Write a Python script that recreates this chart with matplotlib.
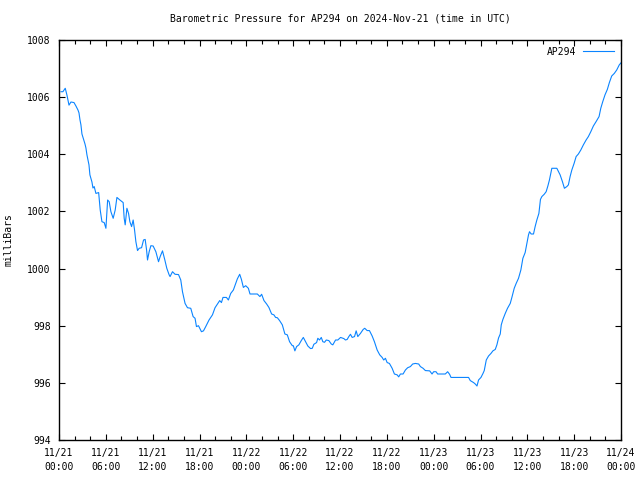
import matplotlib
matplotlib.use("Agg")
import matplotlib.pyplot as plt
from matplotlib.ticker import MultipleLocator

# hours since 2024-11-21 00:00 UTC
hours = [0.26, 0.5, 0.8, 1.02, 1.28, 1.53, 1.92, 2.17, 2.43, 2.56, 2.69, 2.81, 2.94, 3.2, 3.33, 3.45,
         3.58, 3.84, 3.96, 4.22, 4.35, 4.51, 4.73, 5.08, 5.28, 5.5, 5.79, 6.01, 6.23, 6.43, 6.65, 6.94,
         7.2, 7.42, 7.8, 8.22, 8.35, 8.48, 8.7, 8.91, 9.08, 9.3, 9.5, 9.68, 9.85, 10.06, 10.27, 10.58,
         10.83, 11.04, 11.22, 11.34, 11.55, 11.77, 12.06, 12.41, 12.75, 12.96, 13.26, 13.56, 13.81,
         14.11, 14.23, 14.54, 14.87, 15.31, 15.6, 15.82, 16.15, 16.46, 16.88, 17.18, 17.43, 17.61,
         17.87, 18.03, 18.25, 18.51, 18.8, 19.22, 19.66, 19.99, 20.3, 20.59, 20.81, 21.01, 21.45,
         21.7, 22.0, 22.34, 22.64, 22.85, 23.15, 23.37, 23.62, 23.92, 24.26, 24.47, 25.41, 25.74,
         25.96, 26.26, 26.6, 26.89, 27.24, 27.53, 27.75, 27.97, 28.26, 28.61, 28.94, 29.25, 29.54,
         29.89, 30.02, 30.22, 30.44, 30.73, 31.04, 31.3, 31.59, 31.88, 32.23, 32.45, 32.65, 33.0,
         33.16, 33.38, 33.6, 33.8, 34.02, 34.24, 34.57, 34.88, 35.08, 35.43, 35.72, 36.07, 36.49,
         36.7, 36.92, 37.13, 37.34, 37.56, 37.86, 38.07, 38.28, 38.62, 38.97, 39.17, 39.48, 39.77,
         40.12, 40.41, 40.76, 41.09, 41.4, 41.6, 41.82, 42.04, 42.33, 42.68, 42.97, 43.32, 43.52,
         43.74, 44.08, 44.38, 44.67, 45.02, 45.31, 45.66, 46.08, 46.3, 46.64, 46.94, 47.49, 47.79,
         48.0, 48.3, 48.51, 49.49, 49.79, 50.04, 50.22, 52.47, 52.69, 53.11, 53.33, 53.55, 53.75,
         54.06, 54.32, 54.48, 54.74, 55.03, 55.34, 55.59, 55.89, 56.1, 56.31, 56.53, 56.66, 56.87,
         57.17, 57.46, 57.81, 58.02, 58.32, 58.57, 58.87, 59.17, 59.43, 59.72, 59.94, 60.15, 60.28,
         60.49, 60.79, 61.0, 61.22, 61.48, 61.68, 61.86, 62.16, 62.41, 62.63, 62.83, 63.14, 63.78,
         64.2, 64.5, 64.75, 65.06, 65.26, 65.48, 65.7, 65.99, 66.25, 66.54, 66.85, 67.18, 67.53,
         67.82, 68.13, 68.46, 68.8, 69.19, 69.41, 69.66, 69.95, 70.25, 70.51, 70.81, 71.14, 71.45,
         71.78, 72.0]

pressure = [1006.19, 1006.19, 1006.31, 1006.07, 1005.72, 1005.83, 1005.81, 1005.69, 1005.55, 1005.45,
            1005.2, 1005.03, 1004.71, 1004.47, 1004.36, 1004.22, 1003.98, 1003.63, 1003.28, 1003.03,
            1002.82, 1002.87, 1002.63, 1002.66, 1002.05, 1001.64, 1001.61, 1001.41, 1002.40, 1002.34,
            1001.99, 1001.76, 1002.05, 1002.49, 1002.40, 1002.31, 1001.76, 1001.53, 1002.11, 1001.93,
            1001.64, 1001.47, 1001.70, 1001.35, 1000.94, 1000.63, 1000.71, 1000.73, 1001.0, 1001.02,
            1000.65, 1000.30, 1000.59, 1000.80, 1000.79, 1000.59, 1000.24, 1000.42, 1000.62, 1000.30,
            1000.01, 999.78, 999.72, 999.89, 999.80, 999.79, 999.6, 999.19, 998.78, 998.63, 998.61,
            998.32, 998.26, 997.97, 998.0, 997.91, 997.79, 997.82, 997.97, 998.2, 998.38, 998.63,
            998.76, 998.88, 998.81, 998.99, 998.99, 998.9, 999.13, 999.25, 999.48, 999.64, 999.80,
            999.62, 999.34, 999.40, 999.31, 999.11, 999.11, 999.02, 999.10, 998.88, 998.76, 998.64,
            998.41, 998.38, 998.29, 998.28, 998.18, 998.03, 997.71, 997.68, 997.44, 997.30, 997.30,
            997.12, 997.27, 997.33, 997.48, 997.59, 997.44, 997.29, 997.20, 997.21, 997.35, 997.41,
            997.56, 997.50, 997.59, 997.44, 997.42, 997.50, 997.48, 997.36, 997.33, 997.50, 997.50,
            997.59, 997.55, 997.50, 997.52, 997.62, 997.70, 997.59, 997.62, 997.82, 997.62, 997.73,
            997.87, 997.91, 997.83, 997.83, 997.64, 997.44, 997.15, 996.98, 996.89, 996.8, 996.86,
            996.71, 996.68, 996.51, 996.31, 996.28, 996.21, 996.31, 996.31, 996.45, 996.53, 996.57,
            996.66, 996.68, 996.66, 996.57, 996.51, 996.43, 996.42, 996.31, 996.39, 996.39, 996.31,
            996.31, 996.39, 996.30, 996.19, 996.19, 996.08, 996.01, 995.96, 995.89, 996.10, 996.19,
            996.33, 996.43, 996.80, 996.94, 997.03, 997.12, 997.17, 997.33, 997.57, 997.71, 998.03,
            998.22, 998.43, 998.61, 998.78, 998.99, 999.31, 999.48, 999.66, 999.95, 1000.36, 1000.56,
            1000.88, 1001.18, 1001.29, 1001.21, 1001.21, 1001.47, 1001.70, 1001.93, 1002.42, 1002.52,
            1002.60, 1002.69, 1002.89, 1003.10, 1003.51, 1003.51, 1003.28, 1003.04, 1002.81, 1002.87,
            1002.93, 1003.22, 1003.45, 1003.68, 1003.92, 1004.01, 1004.15, 1004.33, 1004.5, 1004.62,
            1004.79, 1004.99, 1005.14, 1005.32, 1005.61, 1005.84, 1006.08, 1006.27, 1006.51, 1006.74,
            1006.83, 1006.95, 1007.13, 1007.2]

tick_hours = [0, 6, 12, 18, 24, 30, 36, 42, 48, 54, 60, 66, 72]
tick_labels = ["11/21\n00:00", "11/21\n06:00", "11/21\n12:00", "11/21\n18:00",
               "11/22\n00:00", "11/22\n06:00", "11/22\n12:00", "11/22\n18:00",
               "11/23\n00:00", "11/23\n06:00", "11/23\n12:00", "11/23\n18:00",
               "11/24\n00:00"]
y_ticks = [994, 996, 998, 1000, 1002, 1004, 1006, 1008]

plt.rcParams['font.family'] = ['DejaVu Sans Mono']
fs = 7

fig = plt.figure(figsize=(6.4, 4.8), dpi=100)
ax = fig.add_axes([59/640, 1 - 440/480, (621 - 59)/640, 400/480])
ax.plot(hours, pressure, color='#0a84ff', lw=0.8, label='AP294')
ax.set_xlim(0, 72)
ax.set_ylim(994, 1008)
ax.set_xticks(tick_hours)
ax.set_xticklabels(tick_labels, fontsize=fs, linespacing=1.45)
ax.xaxis.set_minor_locator(MultipleLocator(2))
ax.set_yticks(y_ticks)
ax.set_yticklabels([str(v) for v in y_ticks], fontsize=fs)
ax.tick_params(axis='both', which='both', direction='in', top=True, right=True,
               width=0.8, color='black')
ax.tick_params(axis='both', which='major', length=4, pad=6)
ax.tick_params(axis='x', which='minor', length=3)
for s in ax.spines.values():
    s.set_linewidth(1.0)
ax.set_ylabel('milliBars', fontsize=fs, labelpad=10)
ax.set_title('Barometric Pressure for AP294 on 2024-Nov-21 (time in UTC)', fontsize=fs, pad=13)
leg = ax.legend(loc='upper right', frameon=False, markerfirst=False, fontsize=fs,
                handlelength=3.2, borderaxespad=0.3, handletextpad=0.7)
fig.savefig('out.png', dpi=100)
